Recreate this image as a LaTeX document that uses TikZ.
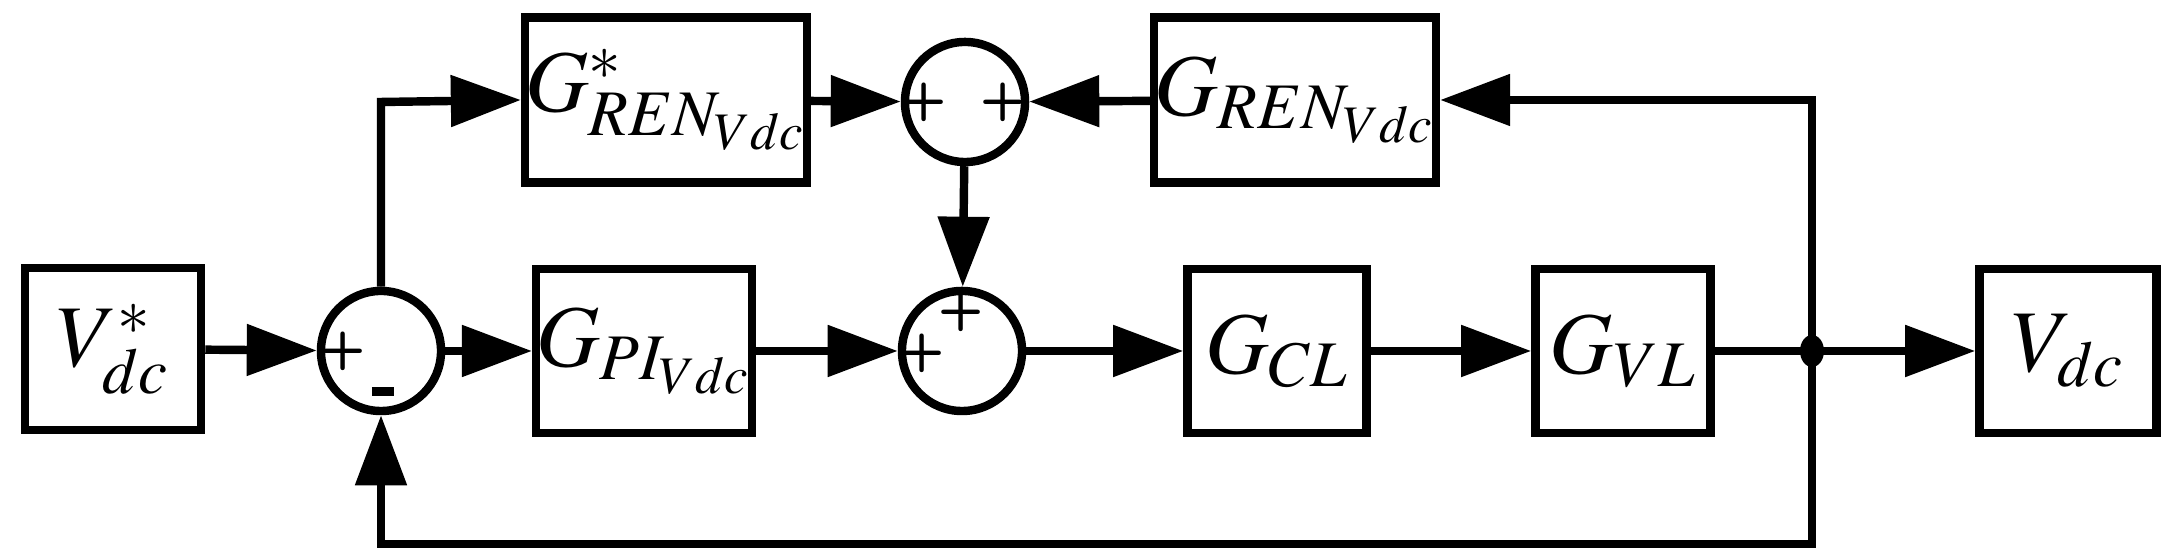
\documentclass[tikz,border=0pt]{standalone}
\usepackage{mathptmx}
\usetikzlibrary{arrows.meta}
\begin{document}
\begin{tikzpicture}[x=0.01cm,y=-0.01cm,
  lw/.style={line width=2.4pt,line join=miter},
  blk/.style={draw,lw,inner sep=0pt,font=\fontsize{25}{25}\selectfont},
  sum/.style={draw,lw,circle,minimum size=1.2cm,inner sep=0pt},
  sg/.style={font=\fontsize{15}{15}\selectfont\bfseries\sffamily,inner sep=0pt},
  ar/.style={lw,-{Triangle[length=0.7cm,width=0.5cm]}}]
\useasboundingbox (0,0) rectangle (2175,559);
\node[blk,minimum width=1.76cm,minimum height=1.62cm] (vref) at (113,349) {$V^{*}_{dc}$};
\node[sum] (s1) at (381,351) {};
\node[blk,minimum width=2.24cm,minimum height=1.65cm] (gren1) at (666,100) {$G^{*}_{REN_{Vdc}}$};
\node[sum] (s3) at (965,102) {};
\node[blk,minimum width=2.21cm,minimum height=1.65cm] (gren2) at (1295,100) {$G_{REN_{Vdc}}$};
\node[blk,minimum width=1.79cm,minimum height=1.64cm] (gpi) at (644,351) {$G_{PI_{Vdc}}$};
\node[sum] (s2) at (962,351) {};
\node[blk,minimum width=1.79cm,minimum height=1.64cm] (gcl) at (1277,351) {$G_{CL}$};
\node[blk,minimum width=1.75cm,minimum height=1.64cm] (gvl) at (1623,351) {$G_{VL}$};
\node[blk,minimum width=1.77cm,minimum height=1.64cm] (vdc) at (2068,351) {$V_{dc}$};
\coordinate (j) at (1812,351);
\fill (j) ellipse [x radius=12, y radius=16];
\coordinate (ctop) at (381,102);
\coordinate (jtop) at (1812,100);
\coordinate (jbot) at (1812,544);
\coordinate (cbot) at (381,544);
\node[sg] at (343,351) {+};
\node[inner sep=0pt] at (383,392) {\rule{0.22cm}{0.09cm}};
\node[sg] at (924,102) {+};
\node[sg] at (1003,102) {+};
\node[sg] at (922,353) {+};
\node[sg] at (961,312) {+};
\draw[ar] (vref) -- (s1);
\draw[ar] (s1) -- (gpi);
\draw[ar] (gpi) -- (s2);
\draw[ar] (s2) -- (gcl);
\draw[ar] (gcl) -- (gvl);
\draw[lw] (gvl) -- (j);
\draw[ar] (j) -- (vdc);
\draw[ar] (s1.north) -- (ctop) -- (gren1.west);
\draw[ar] (gren1) -- (s3);
\draw[ar] (j) -- (jtop) -- (gren2.east);
\draw[ar] (gren2) -- (s3);
\draw[ar] (s3) -- (s2);
\draw[ar] (j) -- (jbot) -- (cbot) -- (s1.south);
\end{tikzpicture}
\end{document}
